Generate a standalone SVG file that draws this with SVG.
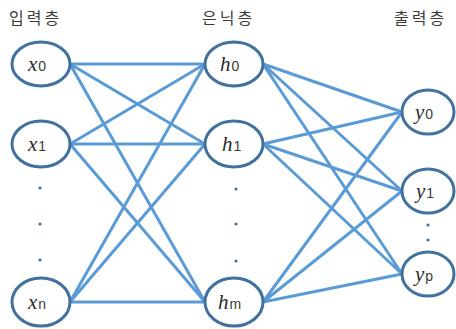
<svg xmlns="http://www.w3.org/2000/svg" width="456" height="329" viewBox="0 0 456 329">
  <style>
    .layer { font-family: "Noto Sans CJK KR", "Noto Sans", sans-serif; font-size: 16px; fill: #3a3a3a; letter-spacing: 3px; }
    .node ellipse { fill: #ffffff; stroke: #41719c; stroke-width: 3; }
    .var { font-family: "Liberation Serif", "DejaVu Serif", serif; font-style: italic; font-size: 21px; fill: #2a2a2a; }
    .sub { font-family: "Liberation Sans", "DejaVu Sans", sans-serif; font-style: normal; font-size: 14px; fill: #3a3a3a; }
    .edges line { stroke: #5b9bd5; stroke-width: 3; stroke-linecap: round; }
    .dot { fill: #41719c; }
  </style>

  <rect width="456" height="329" fill="#ffffff"/>

  <!-- layer titles -->
  <text class="layer" x="9" y="24">입력층</text>
  <text class="layer" x="202" y="24">은닉층</text>
  <text class="layer" x="394" y="24">출력층</text>

  <!-- connectors: input -> hidden, hidden -> output -->
  <g id="connectors" class="edges">
    <line x1="70" y1="64" x2="205" y2="64"/>
    <line x1="70" y1="64" x2="205" y2="144"/>
    <line x1="70" y1="64" x2="205" y2="302"/>
    <line x1="70" y1="144" x2="205" y2="64"/>
    <line x1="70" y1="144" x2="205" y2="144"/>
    <line x1="70" y1="144" x2="205" y2="302"/>
    <line x1="70" y1="302" x2="205" y2="64"/>
    <line x1="70" y1="302" x2="205" y2="144"/>
    <line x1="70" y1="302" x2="205" y2="302"/>

    <line x1="263" y1="64" x2="402" y2="112"/>
    <line x1="263" y1="64" x2="402" y2="191"/>
    <line x1="263" y1="64" x2="402" y2="274"/>
    <line x1="263" y1="144" x2="402" y2="112"/>
    <line x1="263" y1="144" x2="402" y2="191"/>
    <line x1="263" y1="144" x2="402" y2="274"/>
    <line x1="263" y1="302" x2="402" y2="112"/>
    <line x1="263" y1="302" x2="402" y2="191"/>
    <line x1="263" y1="302" x2="402" y2="274"/>
  </g>

  <!-- input layer -->
  <g id="x0" class="node">
    <ellipse cx="41" cy="64" rx="29" ry="22"/>
    <text class="var" x="28" y="71">x<tspan class="sub" dx="1">0</tspan></text>
  </g>
  <g id="x1" class="node">
    <ellipse cx="41" cy="144" rx="29" ry="23"/>
    <text class="var" x="28" y="151">x<tspan class="sub" dx="1">1</tspan></text>
  </g>
  <g id="xn" class="node">
    <ellipse cx="41" cy="302" rx="29" ry="24"/>
    <text class="var" x="28" y="309">x<tspan class="sub" dx="1">n</tspan></text>
  </g>
  <circle class="dot" cx="40" cy="188" r="1.6"/>
  <circle class="dot" cx="40" cy="224" r="1.6"/>
  <circle class="dot" cx="40" cy="260" r="1.6"/>

  <!-- hidden layer -->
  <g id="h0" class="node">
    <ellipse cx="234" cy="64" rx="29" ry="22"/>
    <text class="var" x="220" y="71">h<tspan class="sub" dx="1">0</tspan></text>
  </g>
  <g id="h1" class="node">
    <ellipse cx="234" cy="144" rx="29" ry="23"/>
    <text class="var" x="222" y="151">h<tspan class="sub" dx="1">1</tspan></text>
  </g>
  <g id="hm" class="node">
    <ellipse cx="234" cy="302" rx="29" ry="24"/>
    <text class="var" x="218" y="309">h<tspan class="sub" dx="1">m</tspan></text>
  </g>
  <circle class="dot" cx="236" cy="189" r="1.6"/>
  <circle class="dot" cx="236" cy="224" r="1.6"/>
  <circle class="dot" cx="236" cy="261" r="1.6"/>

  <!-- output layer -->
  <g id="y0" class="node">
    <ellipse cx="428" cy="112" rx="26" ry="22"/>
    <text class="var" x="415" y="119">y<tspan class="sub" dx="1">0</tspan></text>
  </g>
  <g id="y1" class="node">
    <ellipse cx="428" cy="191" rx="26" ry="22"/>
    <text class="var" x="416" y="198">y<tspan class="sub" dx="1">1</tspan></text>
  </g>
  <g id="yp" class="node">
    <ellipse cx="428" cy="274" rx="26" ry="22"/>
    <text class="var" x="415" y="281">y<tspan class="sub" dx="1">p</tspan></text>
  </g>
  <circle class="dot" cx="428" cy="225" r="1.6"/>
  <circle class="dot" cx="428" cy="240" r="1.6"/>
</svg>
